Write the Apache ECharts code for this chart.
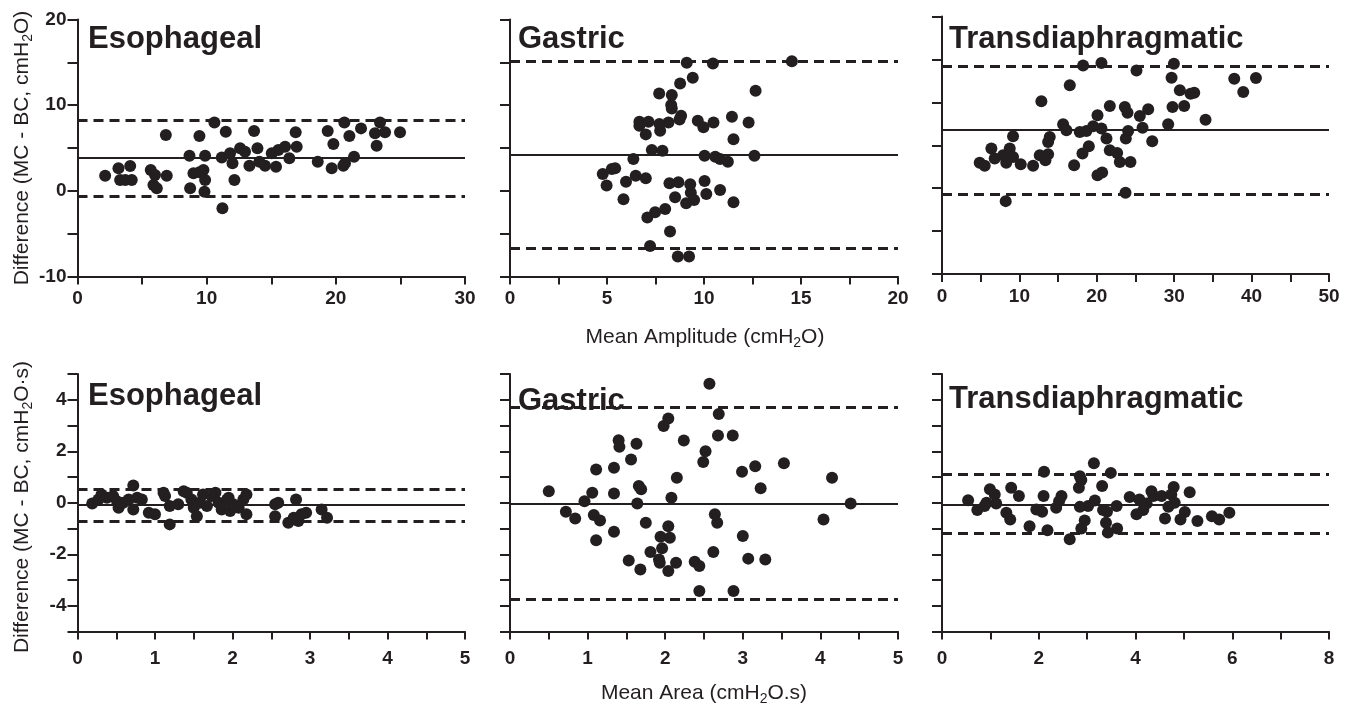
<!DOCTYPE html>
<html><head><meta charset="utf-8">
<script src="https://cdn.jsdelivr.net/npm/echarts@6/dist/echarts.min.js"></script>
<style>html,body{margin:0;padding:0;background:#fff}#c{width:1352px;height:706px}</style>
</head><body><div id="c"></div>
<script>
// ---------- data ----------
const panelTitles = ['Esophageal', 'Gastric', 'Transdiaphragmatic'];

const esoAmp = [[2.14,1.77],[3.17,2.63],[3.30,1.27],[3.7,1.27],[4.08,2.9],[4.2,1.27],[5.67,2.43],[6.0,1.85],[5.88,0.68],[6.14,0.3],[6.91,1.77],[6.84,6.51],[8.67,4.1],[8.72,0.3],[8.98,2.04],[9.44,2.16],[9.44,6.4],[9.75,2.43],[9.88,4.1],[9.88,1.27],[9.83,-0.1],[10.6,7.99],[11.17,3.9],[11.22,-2.04],[11.48,6.9],[11.81,4.38],[12.0,3.21],[12.15,1.27],[12.59,4.96],[12.97,4.57],[13.31,2.94],[13.67,6.98],[13.93,4.96],[14.08,3.4],[14.52,2.94],[15.04,4.38],[15.37,2.82],[15.55,4.77],[16.07,5.15],[16.4,3.8],[16.89,6.83],[16.97,5.15],[18.6,3.4],[19.37,6.98],[19.81,5.46],[19.68,2.63],[20.58,2.94],[20.71,3.21],[20.66,7.99],[21.05,6.4],[21.41,3.99],[21.95,7.29],[23.03,6.71],[23.16,5.27],[23.42,7.99],[23.81,6.83],[24.97,6.83]];

const gasAmp = [[9.11,14.95],[10.46,14.87],[14.53,15.14],[9.42,13.2],[8.77,12.54],[7.69,11.37],[8.34,11.18],[8.31,10.01],[8.34,9.62],[12.66,11.68],[6.67,8.07],[6.67,7.6],[7.14,8.07],[7.7,7.8],[8.17,7.99],[8.82,8.77],[8.74,8.34],[9.68,8.18],[9.97,7.41],[10.49,7.99],[11.44,8.65],[12.3,7.99],[7.0,6.59],[7.74,7.02],[11.52,6.01],[7.31,4.77],[7.86,4.69],[6.36,3.72],[10.03,4.1],[10.58,3.99],[10.83,3.72],[11.23,3.4],[12.6,4.1],[4.78,1.97],[5.25,2.55],[5.42,2.63],[4.98,0.61],[5.98,1.07],[5.85,-0.99],[6.48,1.77],[7.0,1.46],[8.22,0.88],[8.68,1.0],[9.29,0.76],[9.32,-0.21],[10.03,1.15],[10.12,-0.37],[10.83,0.1],[11.52,-1.34],[8.51,-0.75],[9.08,-1.45],[9.49,-1.06],[8.0,-2.11],[7.48,-2.5],[7.08,-3.12],[8.25,-4.76],[7.22,-6.43],[8.65,-7.67],[9.23,-7.67]];

const tdiAmp = [[18.23,14.3],[20.6,14.57],[25.13,13.72],[29.96,14.5],[29.66,12.87],[37.76,12.75],[40.56,12.83],[38.92,11.2],[30.73,11.4],[32.11,11.0],[32.59,11.12],[16.51,11.98],[12.84,10.12],[21.68,9.57],[23.62,9.46],[23.97,8.8],[26.64,9.19],[29.78,9.46],[31.29,9.57],[20.09,8.49],[25.56,8.41],[34.05,7.98],[15.65,7.44],[16.08,6.74],[17.8,6.55],[18.66,6.67],[19.53,7.21],[20.6,6.94],[24.05,6.67],[25.91,7.05],[29.22,7.44],[9.18,6.05],[13.92,5.97],[13.71,5.39],[21.25,5.78],[23.75,5.78],[27.16,5.47],[6.38,4.61],[8.75,4.61],[18.97,4.88],[21.68,4.42],[22.63,4.11],[18.15,4.03],[6.81,3.45],[7.89,3.84],[9.18,3.64],[12.63,3.84],[13.71,3.95],[13.36,3.26],[4.87,2.95],[5.52,2.6],[8.3,2.95],[10.17,2.79],[11.77,2.6],[17.07,2.67],[22.97,3.06],[24.35,3.06],[20.09,1.51],[20.69,1.82],[23.71,-0.54],[8.23,-1.51]];

const esoArea = [[0.19,-0.03],[0.27,0.13],[0.31,0.32],[0.38,0.19],[0.46,0.26],[0.51,0.06],[0.53,-0.19],[0.59,0.0],[0.66,0.13],[0.72,0.67],[0.72,-0.26],[0.77,0.19],[0.83,0.13],[0.92,-0.39],[1.0,-0.45],[1.11,0.39],[1.13,0.26],[1.19,-0.13],[1.19,-0.84],[1.3,-0.06],[1.37,0.45],[1.41,0.39],[1.47,0.13],[1.5,-0.19],[1.54,-0.52],[1.58,0.0],[1.62,0.32],[1.67,-0.13],[1.73,0.26],[1.78,0.39],[1.82,0.0],[1.86,-0.26],[1.93,0.13],[1.95,0.19],[1.97,-0.32],[2.01,-0.06],[2.08,-0.19],[2.14,0.13],[2.18,0.32],[2.18,-0.45],[2.55,-0.06],[2.59,0.0],[2.55,-0.52],[2.72,-0.78],[2.79,-0.58],[2.82,0.13],[2.85,-0.71],[2.89,-0.45],[2.95,-0.39],[3.15,-0.26],[3.22,-0.58]];

const gasArea = [[2.57,4.62],[2.04,3.27],[1.98,2.98],[2.69,3.45],[2.68,2.61],[2.87,2.61],[1.4,2.43],[1.41,2.17],[1.63,2.29],[2.24,2.42],[2.52,2.0],[1.56,1.68],[2.49,1.58],[1.11,1.29],[1.34,1.36],[3.16,1.42],[3.53,1.53],[2.99,1.2],[2.15,0.97],[4.15,0.97],[1.66,0.65],[1.69,0.52],[3.23,0.56],[0.5,0.45],[1.06,0.39],[1.34,0.36],[2.08,0.19],[0.96,0.06],[1.64,-0.03],[4.39,-0.03],[0.72,-0.35],[0.84,-0.61],[1.08,-0.48],[1.16,-0.69],[1.75,-0.78],[2.64,-0.45],[2.67,-0.78],[4.04,-0.65],[2.04,-0.91],[1.34,-1.13],[1.94,-1.32],[2.06,-1.36],[3.0,-1.29],[1.11,-1.46],[1.96,-1.77],[1.81,-1.91],[2.62,-1.91],[1.92,-2.2],[1.93,-2.33],[1.53,-2.24],[2.14,-2.33],[2.38,-2.29],[2.44,-2.46],[3.07,-2.17],[3.29,-2.2],[1.68,-2.59],[2.04,-2.65],[2.44,-3.43],[2.88,-3.43]];

const tdiArea = [[3.14,1.53],[2.11,1.2],[3.49,1.16],[2.85,1.03],[2.88,0.88],[2.83,0.58],[3.31,0.65],[1.43,0.58],[0.99,0.52],[1.09,0.32],[1.59,0.26],[2.1,0.26],[2.47,0.26],[4.33,0.45],[4.37,0.26],[4.79,0.61],[5.12,0.41],[3.88,0.22],[4.08,0.13],[4.54,0.26],[4.74,0.32],[0.54,0.1],[0.92,0.0],[1.12,-0.03],[2.42,0.06],[3.16,0.09],[3.02,-0.13],[2.85,-0.16],[3.61,-0.13],[0.73,-0.28],[0.88,-0.13],[1.95,-0.26],[2.07,-0.35],[2.36,-0.19],[3.33,-0.28],[3.41,-0.35],[4.23,-0.03],[4.16,-0.28],[4.02,-0.45],[4.81,0.0],[4.68,-0.16],[5.02,-0.36],[4.93,-0.65],[4.61,-0.61],[1.33,-0.39],[1.41,-0.65],[1.81,-0.91],[2.18,-1.07],[2.95,-0.69],[2.88,-1.0],[3.39,-0.78],[3.43,-1.16],[3.62,-1.0],[2.64,-1.42],[5.28,-0.71],[5.58,-0.52],[5.73,-0.65],[5.94,-0.39]];

// bias and limits of agreement (mean, upper, lower)
const ampMean  = [3.83, 4.18, 6.82];
const ampUpper = [8.26, 15.07, 14.19];
const ampLower = [-0.64, -6.7, -0.66];
const areaMean  = [-0.07, -0.04, -0.07];
const areaUpper = [0.54, 3.69, 1.1];
const areaLower = [-0.73, -3.75, -1.2];

// axis ranges / ticks
const ampXMax = [30, 20, 50];
const ampXTick = [5, 2.5, 5];
const ampXLabelStep = [10, 5, 10];
const areaXMax = [5, 5, 8];
const areaXTick = [0.5, 0.5, 1];
const areaXLabelStep = [1, 1, 2];
const ampY = {min: -10, max: 20, tick: 5, labelStep: 10};
const areaY = {min: -5, max: 5, tick: 1, labelStep: 2};

const xTitleTop = ['Mean Amplitude (cmH', '2', 'O)'];
const xTitleBottom = ['Mean Area (cmH', '2', 'O.s)'];
const yTitleTop = ['Difference (MC - BC, cmH', '2', 'O)'];
const yTitleBottom = ['Difference (MC - BC, cmH', '2', 'O·s)'];

// ---------- chart ----------
const INK = '#231f20';
const FONT = '"Liberation Sans", Arial, sans-serif';

const grids = [
  {left: 77.5, top: 19.5, width: 387.5, height: 257},
  {left: 510, top: 19.5, width: 388, height: 257},
  {left: 942, top: 16.5, width: 387, height: 257.5},
  {left: 77.5, top: 374, width: 387.5, height: 257.5},
  {left: 510, top: 374, width: 388, height: 257.5},
  {left: 942, top: 374, width: 387, height: 257.5}
];

function stepFormatter(step) {
  return function (v) {
    const r = v / step;
    return Math.abs(r - Math.round(r)) < 1e-6 ? String(Math.round(v * 1000) / 1000) : '';
  };
}

const xAxes = [], yAxes = [], series = [];
const panelData = [esoAmp, gasAmp, tdiAmp, esoArea, gasArea, tdiArea];

for (let i = 0; i < 6; i++) {
  const row = i < 3 ? 0 : 1, col = i % 3;
  const xmax = row === 0 ? ampXMax[col] : areaXMax[col];
  const xtick = row === 0 ? ampXTick[col] : areaXTick[col];
  const xstep = row === 0 ? ampXLabelStep[col] : areaXLabelStep[col];
  const ycfg = row === 0 ? ampY : areaY;
  xAxes.push({
    gridIndex: i, type: 'value', min: 0, max: xmax, interval: xtick, position: 'bottom',
    axisLine: {onZero: false, lineStyle: {color: INK, width: 2}},
    axisTick: {length: 8, lineStyle: {color: INK, width: 2}},
    splitLine: {show: false},
    axisLabel: {color: INK, fontFamily: FONT, fontWeight: 'bold', fontSize: 19,
      margin: row === 0 ? 13 : 18, formatter: stepFormatter(xstep), hideOverlap: false}
  });
  yAxes.push({
    gridIndex: i, type: 'value', min: ycfg.min, max: ycfg.max, interval: ycfg.tick, position: 'left',
    axisLine: {show: true, onZero: false, lineStyle: {color: INK, width: 2}},
    axisTick: {show: true, length: 10, lineStyle: {color: INK, width: 2}},
    splitLine: {show: false},
    axisLabel: {show: col === 0, color: INK, fontFamily: FONT, fontWeight: 'bold', fontSize: 19,
      margin: 11, formatter: stepFormatter(ycfg.labelStep), hideOverlap: false}
  });
  const mean = row === 0 ? ampMean[col] : areaMean[col];
  const up = row === 0 ? ampUpper[col] : areaUpper[col];
  const lo = row === 0 ? ampLower[col] : areaLower[col];
  series.push({
    type: 'scatter', xAxisIndex: i, yAxisIndex: i, data: [], z: 1, silent: true,
    markLine: {
      silent: true, symbol: 'none', label: {show: false}, animation: false,
      data: [
        {yAxis: mean, lineStyle: {color: INK, type: 'solid', width: 2}},
        {yAxis: up, lineStyle: {color: INK, type: [10, 6], width: 3}},
        {yAxis: lo, lineStyle: {color: INK, type: [10, 6], width: 3}}
      ]
    }
  });
  series.push({
    type: 'scatter', xAxisIndex: i, yAxisIndex: i, z: 3,
    data: panelData[i], symbol: 'circle', symbolSize: 12,
    itemStyle: {color: INK, opacity: 1}
  });
}

const richStyle = {
  a: {fontSize: 21, fontFamily: FONT, fill: INK, lineHeight: 26},
  s: {fontSize: 14, fontFamily: FONT, fill: INK, lineHeight: 14, verticalAlign: 'bottom'}
};
function richText(parts) { return '{a|' + parts[0] + '}{s|' + parts[1] + '}{a|' + parts[2] + '}'; }

const titlePos = [[88, 39], [518, 39], [949, 39], [88, 396], [518, 401], [949, 399]];
const graphic = [];
titlePos.forEach((p, i) => {
  graphic.push({
    type: 'text', x: p[0], y: p[1], z: 10,
    style: {text: panelTitles[i % 3], font: 'bold 31px ' + FONT, fill: INK, align: 'left', verticalAlign: 'middle'}
  });
});
graphic.push({type: 'text', x: 705, y: 337, style: {text: richText(xTitleTop), rich: richStyle, align: 'center', verticalAlign: 'middle'}});
graphic.push({type: 'text', x: 704, y: 693, style: {text: richText(xTitleBottom), rich: richStyle, align: 'center', verticalAlign: 'middle'}});
graphic.push({type: 'text', x: 22, y: 148, rotation: Math.PI / 2, style: {text: richText(yTitleTop), rich: richStyle, align: 'center', verticalAlign: 'middle'}});
graphic.push({type: 'text', x: 22, y: 507, rotation: Math.PI / 2, style: {text: richText(yTitleBottom), rich: richStyle, align: 'center', verticalAlign: 'middle'}});

const chart = echarts.init(document.getElementById('c'), null, {renderer: 'canvas'});
chart.setOption({
  animation: false,
  backgroundColor: '#ffffff',
  grid: grids,
  xAxis: xAxes,
  yAxis: yAxes,
  series: series,
  graphic: graphic
});
</script>
</body></html>
